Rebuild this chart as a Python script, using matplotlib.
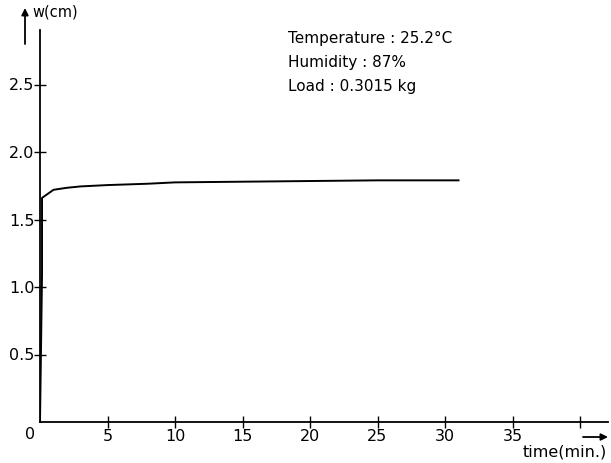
import matplotlib.pyplot as plt

# creep of the sample under constant load
time_min = [0, 0.15, 0.15, 1.0, 2.0, 3.0, 5.0, 8.0, 10, 15, 20, 25, 31]
w_cm = [0, 1.10, 1.66, 1.72, 1.735, 1.745, 1.755, 1.765, 1.775, 1.78, 1.785, 1.79, 1.79]

x_ticks = [5, 10, 15, 20, 25, 30, 35, 40]
x_labels = ['5', '10', '15', '20', '25', '30', '35', '']
y_ticks = [0.5, 1.0, 1.5, 2.0, 2.5]
y_labels = ['0.5', '1.0', '1.5', '2.0', '2.5']

conditions = ['Temperature : 25.2°C', 'Humidity : 87%', 'Load : 0.3015 kg']

fig = plt.figure(figsize=(6.11, 4.63), dpi=100)
ax = fig.add_axes([40 / 611, 41 / 463, 568 / 611, 392 / 463])

ax.plot(time_min, w_cm, color='black', lw=1.4)

ax.set_xlim(0, 568 / 13.5)
ax.set_ylim(0, 392 / 135)

for side in ('top', 'right'):
    ax.spines[side].set_visible(False)
for side in ('left', 'bottom'):
    ax.spines[side].set_linewidth(1.3)

ax.set_xticks(x_ticks)
ax.set_xticklabels(x_labels)
ax.set_yticks(y_ticks)
ax.set_yticklabels(y_labels)
ax.tick_params(direction='inout', length=8, width=1, labelsize=11.5, pad=1)
ax.tick_params(axis='y', pad=0)

# origin label and axis titles with arrows
ax.text(-0.008, -0.012, '0', transform=ax.transAxes, ha='right', va='top', fontsize=11.5)
fig.text(32 / 611, 1 - 12 / 463, 'w(cm)', ha='left', va='center', fontsize=10.5)
arrow = dict(arrowstyle='-|>', color='black', lw=1.3, mutation_scale=10,
             shrinkA=0, shrinkB=0)
fig.add_artist(plt.matplotlib.patches.FancyArrowPatch(
    (25 / 611, 1 - 44 / 463), (25 / 611, 1 - 8 / 463),
    transform=fig.transFigure, **arrow))
fig.add_artist(plt.matplotlib.patches.FancyArrowPatch(
    (583 / 611, 1 - 437 / 463), (608 / 611, 1 - 437 / 463),
    transform=fig.transFigure, **arrow))
fig.text(607 / 611, 1 - 452 / 463, 'time(min.)', ha='right', va='center', fontsize=11.5)

for i, line in enumerate(conditions):
    fig.text(288 / 611, 1 - (38 + 24.5 * i) / 463, line, ha='left', va='center', fontsize=11)

fig.savefig('out.png', dpi=100)
